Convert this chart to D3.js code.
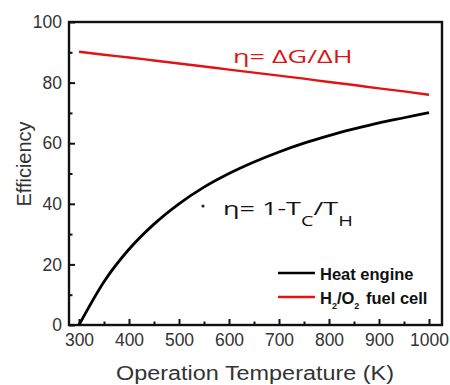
<!DOCTYPE html>
<html>
<head>
<meta charset="utf-8">
<script src="https://cdn.jsdelivr.net/npm/d3@7"></script>
<style>
body { margin: 0; background: #fff; }
svg { font-family: "Liberation Sans", Arial, sans-serif; }
</style>
</head>
<body>
<svg width="450" height="385"></svg>
<script>
// temperatures (K)
var temps = [300, 350, 400, 450, 500, 550, 600, 650, 700, 750, 800, 850, 900, 950, 1000];
// heat engine efficiency (%)
var heatEngine = [0, 14.3, 25, 33.3, 40, 45.5, 50, 53.8, 57.1, 60, 62.5, 64.7, 66.7, 68.4, 70.1];
// H2/O2 fuel cell efficiency (%)
var fuelCell = [90.2, 89.2, 88.3, 87.3, 86.3, 85.3, 84.3, 83.3, 82.3, 81.3, 80.2, 79.2, 78.1, 77.1, 76];
var xTicks = [300, 400, 500, 600, 700, 800, 900, 1000];
var yTicks = [0, 20, 40, 60, 80, 100];

var plotLeft = 69, plotRight = 442, plotTop = 22, plotBottom = 325;
var svg = d3.select("svg");

var x = d3.scaleLinear().domain([280, 1026]).range([plotLeft, plotRight]);
var y = d3.scaleLinear().domain([0, 100]).range([plotBottom, plotTop]);

var tickColor = "#111";
var labelColor = "#333";

// x axis, ticks pointing in
var xAxis = svg.append("g")
   .attr("transform", "translate(0," + plotBottom + ")")
   .call(d3.axisBottom(x).tickValues(xTicks).tickSize(-6).tickPadding(9).tickFormat(d3.format("d")));
svg.append("g")
   .attr("transform", "translate(0," + plotBottom + ")")
   .call(d3.axisBottom(x).tickValues(d3.range(350, 1001, 100)).tickSize(-3.5).tickFormat(""));

var yAxis = svg.append("g")
   .attr("transform", "translate(" + plotLeft + ",0)")
   .call(d3.axisLeft(y).tickValues(yTicks).tickSize(-6).tickPadding(7));
svg.append("g")
   .attr("transform", "translate(" + plotLeft + ",0)")
   .call(d3.axisLeft(y).tickValues(d3.range(10, 100, 20)).tickSize(-3.5).tickFormat(""));

svg.selectAll(".domain").remove();
svg.selectAll(".tick line").attr("stroke", tickColor).attr("stroke-width", 2);
svg.selectAll(".tick text").attr("fill", labelColor).style("font-size", "17.5px");

// frame
svg.append("rect")
   .attr("x", plotLeft).attr("y", plotTop)
   .attr("width", plotRight - plotLeft).attr("height", plotBottom - plotTop)
   .attr("fill", "none").attr("stroke", "#111").attr("stroke-width", 2.4);

// axis titles
svg.append("text")
   .attr("x", 255).attr("y", 380)
   .attr("text-anchor", "middle")
   .attr("fill", labelColor)
   .attr("textLength", 278)
   .attr("lengthAdjust", "spacingAndGlyphs")
   .style("font-size", "20px")
   .text("Operation Temperature (K)");

svg.append("text")
   .attr("transform", "translate(31,164) rotate(-90)")
   .attr("text-anchor", "middle")
   .attr("fill", labelColor)
   .style("font-size", "20px")
   .text("Efficiency");

// curves
var line = d3.line().curve(d3.curveMonotoneX)
   .x(function(d) { return x(d[0]); })
   .y(function(d) { return y(d[1]); });

svg.append("path")
   .datum(temps.map(function(t, i) { return [t, heatEngine[i]]; }))
   .attr("d", line)
   .attr("fill", "none").attr("stroke", "#000").attr("stroke-width", 2.8);

svg.append("path")
   .datum(temps.map(function(t, i) { return [t, fuelCell[i]]; }))
   .attr("d", line)
   .attr("fill", "none").attr("stroke", "#e01414").attr("stroke-width", 2.4);

// annotations (the source text is drawn wide, so stretch it)
svg.append("g")
   .attr("transform", "translate(233,63) scale(1.42,1)")
   .append("text")
   .attr("fill", "#d81818")
   .style("font-family", "'Open Sans', 'DejaVu Sans', sans-serif")
   .style("font-size", "19px")
   .text("η= ΔG/ΔH");

svg.append("circle")
   .attr("cx", 203).attr("cy", 206).attr("r", 1.6).attr("fill", "#222");

var eq = svg.append("g")
   .attr("transform", "translate(223,215) scale(1.42,1)")
   .append("text")
   .attr("fill", "#111")
   .style("font-family", "'Open Sans', 'DejaVu Sans', sans-serif")
   .style("font-size", "19px");
eq.append("tspan").text("η= 1-T");
eq.append("tspan").attr("dy", 11).style("font-size", "14px").text("C");
eq.append("tspan").attr("dy", -11).text("/T");
eq.append("tspan").attr("dy", 11).style("font-size", "14px").text("H");

// legend
var legendData = [
   { name: "Heat engine", color: "#000" },
   { name: "H2/O2 fuel cell", color: "#e01414" }
];
var legend = svg.selectAll(".legend")
   .data(legendData).enter().append("g")
   .attr("class", "legend")
   .attr("transform", function(d, i) { return "translate(278," + (273 + i * 24) + ")"; });

legend.append("line")
   .attr("x1", 0).attr("x2", 37)
   .attr("stroke", function(d) { return d.color; })
   .attr("stroke-width", 2.6);

var lt = legend.append("text")
   .attr("x", 42).attr("y", 6.5)
   .attr("fill", "#111")
   .style("font-weight", "bold")
   .style("font-size", "16.5px");
lt.filter(function(d, i) { return i == 0; }).text(function(d) { return d.name; });
var fc = lt.filter(function(d, i) { return i == 1; });
fc.append("tspan").text("H");
fc.append("tspan").attr("dy", 5).style("font-size", "9px").text("2");
fc.append("tspan").attr("dy", -5).text("/O");
fc.append("tspan").attr("dy", 5).style("font-size", "9px").text("2");
fc.append("tspan").attr("dy", -5).attr("dx", 2).text(" fuel cell");
</script>
</body>
</html>
